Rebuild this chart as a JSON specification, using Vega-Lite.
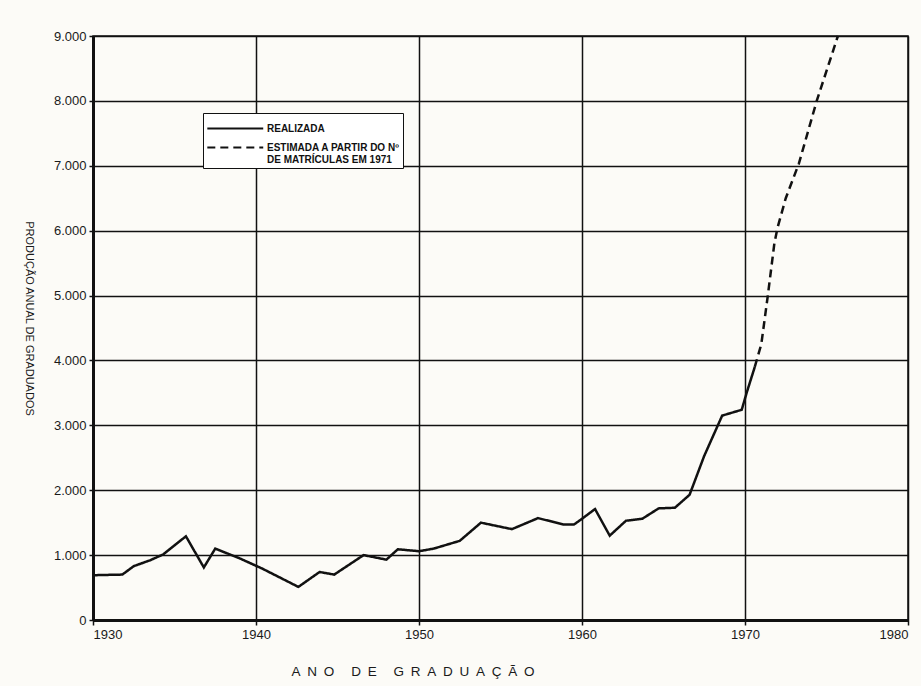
{
  "$schema": "https://vega.github.io/schema/vega-lite/v6.json",
  "autosize": "none",
  "width": 815,
  "height": 584,
  "padding": {"left": 93, "top": 36, "right": 13, "bottom": 66},
  "background": "#fcfbf7",
  "data": {
    "values": [
      {"ano": 1930.0, "grad": 690, "serie": "REALIZADA"},
      {"ano": 1931.8, "grad": 700, "serie": "REALIZADA"},
      {"ano": 1932.5, "grad": 830, "serie": "REALIZADA"},
      {"ano": 1933.5, "grad": 920, "serie": "REALIZADA"},
      {"ano": 1934.3, "grad": 1010, "serie": "REALIZADA"},
      {"ano": 1935.7, "grad": 1290, "serie": "REALIZADA"},
      {"ano": 1936.8, "grad": 810, "serie": "REALIZADA"},
      {"ano": 1937.5, "grad": 1100, "serie": "REALIZADA"},
      {"ano": 1939.0, "grad": 950, "serie": "REALIZADA"},
      {"ano": 1940.4, "grad": 790, "serie": "REALIZADA"},
      {"ano": 1942.6, "grad": 510, "serie": "REALIZADA"},
      {"ano": 1943.9, "grad": 740, "serie": "REALIZADA"},
      {"ano": 1944.8, "grad": 700, "serie": "REALIZADA"},
      {"ano": 1946.6, "grad": 1000, "serie": "REALIZADA"},
      {"ano": 1948.0, "grad": 930, "serie": "REALIZADA"},
      {"ano": 1948.7, "grad": 1090, "serie": "REALIZADA"},
      {"ano": 1950.0, "grad": 1060, "serie": "REALIZADA"},
      {"ano": 1950.9, "grad": 1100, "serie": "REALIZADA"},
      {"ano": 1952.5, "grad": 1220, "serie": "REALIZADA"},
      {"ano": 1953.8, "grad": 1500, "serie": "REALIZADA"},
      {"ano": 1955.7, "grad": 1400, "serie": "REALIZADA"},
      {"ano": 1957.3, "grad": 1570, "serie": "REALIZADA"},
      {"ano": 1958.9, "grad": 1470, "serie": "REALIZADA"},
      {"ano": 1959.5, "grad": 1470, "serie": "REALIZADA"},
      {"ano": 1960.0, "grad": 1560, "serie": "REALIZADA"},
      {"ano": 1960.8, "grad": 1710, "serie": "REALIZADA"},
      {"ano": 1961.7, "grad": 1300, "serie": "REALIZADA"},
      {"ano": 1962.7, "grad": 1530, "serie": "REALIZADA"},
      {"ano": 1963.7, "grad": 1560, "serie": "REALIZADA"},
      {"ano": 1964.7, "grad": 1720, "serie": "REALIZADA"},
      {"ano": 1965.7, "grad": 1730, "serie": "REALIZADA"},
      {"ano": 1966.6, "grad": 1930, "serie": "REALIZADA"},
      {"ano": 1967.5, "grad": 2530, "serie": "REALIZADA"},
      {"ano": 1968.6, "grad": 3150, "serie": "REALIZADA"},
      {"ano": 1969.8, "grad": 3240, "serie": "REALIZADA"},
      {"ano": 1970.1, "grad": 3500, "serie": "REALIZADA"},
      {"ano": 1970.6, "grad": 3900, "serie": "REALIZADA"},
      {"ano": 1970.6, "grad": 3900, "serie": "ESTIMADA"},
      {"ano": 1971.0, "grad": 4250, "serie": "ESTIMADA"},
      {"ano": 1971.4, "grad": 5000, "serie": "ESTIMADA"},
      {"ano": 1971.8, "grad": 5800, "serie": "ESTIMADA"},
      {"ano": 1972.0, "grad": 6050, "serie": "ESTIMADA"},
      {"ano": 1972.5, "grad": 6500, "serie": "ESTIMADA"},
      {"ano": 1973.3, "grad": 7030, "serie": "ESTIMADA"},
      {"ano": 1974.4, "grad": 8000, "serie": "ESTIMADA"},
      {"ano": 1975.7, "grad": 9000, "serie": "ESTIMADA"}
    ]
  },
  "mark": {"type": "line", "color": "#111111", "strokeWidth": 2.5},
  "encoding": {
    "x": {
      "field": "ano",
      "type": "quantitative",
      "scale": {"domain": [1930, 1980], "nice": false, "zero": false},
      "axis": {
        "values": [1930, 1940, 1950, 1960, 1970, 1980],
        "format": "d",
        "title": "A\u2002N\u2002O\u2002\u2002\u2005D\u2002E\u2002\u2002\u2005G\u2002R\u2002A\u2002D\u2002U\u2002A\u2002Ç\u2002Ã\u2002O",
        "titleX": 198,
        "titleY": 44,
        "titleAlign": "left",
        "titleFont": "Liberation Sans",
        "titleFontSize": 13.5,
        "titleFontWeight": "normal",
        "titleColor": "#1a1a1a",
        "labelFont": "Liberation Sans",
        "labelFontSize": 13,
        "labelColor": "#1a1a1a",
        "labelPadding": 3,
        "tickSize": 5,
        "tickColor": "#111111",
        "tickWidth": 1.5,
        "domainColor": "#111111",
        "domainWidth": 3,
        "grid": true,
        "gridColor": "#111111",
        "gridWidth": 1.5,
        "gridOpacity": 1
      }
    },
    "y": {
      "field": "grad",
      "type": "quantitative",
      "scale": {"domain": [0, 9000], "nice": false},
      "axis": {
        "values": [0, 1000, 2000, 3000, 4000, 5000, 6000, 7000, 8000, 9000],
        "labelExpr": "replace(format(datum.value, ','), ',', '.')",
        "title": "PRODUÇÃO ANUAL DE GRADUADOS",
        "titleAngle": 90,
        "titleX": -65,
        "titleY": 282,
        "titleAlign": "center",
        "titleBaseline": "middle",
        "titleFont": "Liberation Sans",
        "titleFontSize": 11,
        "titleFontWeight": "normal",
        "titleColor": "#1a1a1a",
        "labelFont": "Liberation Sans",
        "labelFontSize": 13,
        "labelColor": "#1a1a1a",
        "labelPadding": 3,
        "tickSize": 4,
        "tickColor": "#111111",
        "tickWidth": 1.5,
        "domainColor": "#111111",
        "domainWidth": 3,
        "grid": true,
        "gridColor": "#111111",
        "gridWidth": 1.5,
        "gridOpacity": 1
      }
    },
    "strokeDash": {
      "field": "serie",
      "type": "nominal",
      "scale": {"domain": ["REALIZADA", "ESTIMADA"], "range": [[1, 0], [8, 5]]},
      "legend": {
        "title": null,
        "orient": "none",
        "legendX": 110,
        "legendY": 77,
        "direction": "vertical",
        "symbolType": "M-1,0H4",
        "symbolSize": 500,
        "symbolStrokeColor": "#111111",
        "symbolFillColor": "transparent",
        "symbolStrokeWidth": 2,
        "labelExpr": "datum.label == 'ESTIMADA' ? ['ESTIMADA A PARTIR DO Nº', 'DE MATRÍCULAS EM 1971'] : datum.label",
        "labelFont": "Liberation Sans",
        "labelFontSize": 10,
        "labelFontWeight": "bold",
        "labelColor": "#111111",
        "labelLimit": 300,
        "labelOffset": 36,
        "rowPadding": 1,
        "padding": 3,
        "strokeColor": "#111111",
        "fillColor": "#ffffff",
        "cornerRadius": 0
      }
    }
  },
  "config": {
    "view": {"stroke": "#111111", "strokeWidth": 1.5}
  }
}
